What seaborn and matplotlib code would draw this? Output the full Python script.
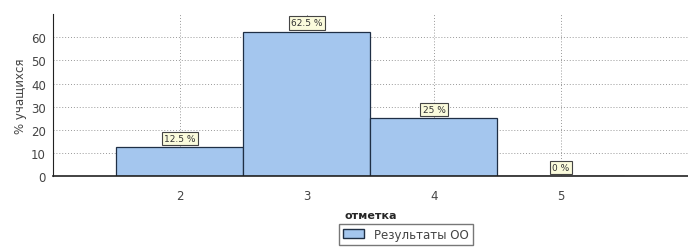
import pandas as pd
import seaborn as sns
import matplotlib.pyplot as plt
from matplotlib.patches import Patch

# data
grades = [2, 3, 4, 5]
percents = [12.5, 62.5, 25, 0]
value_labels = ["12.5 %", "62.5 %", "25 %", "0 %"]
series_name = "Результаты ОО"

df = pd.DataFrame({"grade": grades, "pct": percents})

sns.set_style("white")
plt.rcParams["font.family"] = ["DejaVu Sans"]

fig = plt.figure(figsize=(6.88, 2.53), dpi=100)
ax = fig.add_axes([0.077, 0.30, 0.923, 0.64])

bar_color = "#a4c6ee"
sns.barplot(data=df, x="grade", y="pct", native_scale=True, width=1.0,
            color=bar_color, edgecolor="#1f2f45", linewidth=0.9,
            saturation=1, ax=ax, zorder=2)

ax.set_xlim(1, 6)
ax.set_ylim(0, 70)
ax.set_xticks(grades)
ax.set_yticks(range(0, 61, 10))
ax.set_xticks([1.5 + 0.5 * i for i in range(10)], minor=True)
ax.grid(True, which="major", linestyle=(0, (1, 2)), color="#999999", linewidth=0.7, zorder=0)
ax.tick_params(axis="both", labelsize=8.5, colors="#444444", length=3, pad=2)
ax.tick_params(axis="x", which="minor", length=2)
ax.tick_params(axis="x", pad=6)
for s in ["top", "right"]:
    ax.spines[s].set_visible(False)
ax.spines["left"].set_color("#222222")
ax.spines["bottom"].set_color("#222222")
ax.spines["bottom"].set_linewidth(1.2)

ax.set_xlabel("отметка", fontsize=8, fontweight="bold", labelpad=6)
ax.set_ylabel("% учащихся", fontsize=8.5, color="#444444", labelpad=3)

for g, p, lab in zip(grades, percents, value_labels):
    ax.annotate(lab, (g, p), xytext=(0, 3), textcoords="offset points",
                ha="center", va="bottom", fontsize=6.5, color="#333333", zorder=5,
                bbox=dict(boxstyle="square,pad=0.25", fc="#fbfbdc", ec="#444444", lw=0.8))

handles = [Patch(facecolor=bar_color, edgecolor="#1f2f45", label=series_name)]
fig.legend(handles=handles, loc="lower center", bbox_to_anchor=(0.59, 0.005),
           fontsize=8.5, frameon=True, fancybox=False, edgecolor="#555555",
           handlelength=1.8, handleheight=0.8, borderpad=0.35, labelcolor="#444444")

fig.savefig("out.png", dpi=100)
